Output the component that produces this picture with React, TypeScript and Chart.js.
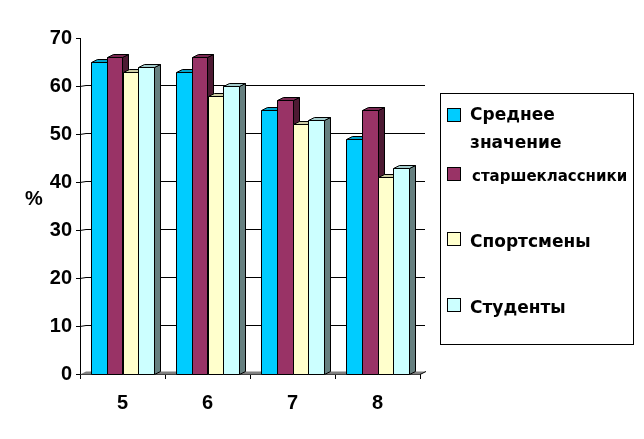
import React, { useEffect, useRef } from 'react';
import { Chart, registerables } from 'chart.js';

Chart.register(...registerables);

// data
const categories = ['5', '6', '7', '8'];
const averageValues = [65, 63, 55, 49];
const seniorValues = [66, 66, 57, 55];
const athleteValues = [63, 58, 52, 41];
const studentValues = [64, 60, 53, 43];
const seriesNames = ['Среднее значение', 'старшеклассники', 'Спортсмены', 'Студенты'];
const legendLines = [['Среднее', 'значение'], ['старшеклассники'], ['Спортсмены'], ['Студенты']];
const seriesColors = ['#00CCFF', '#993366', '#FFFFCC', '#CCFFFF'];

const DX = 6;
const DY = 3;

function shade(hex: string, f: number) {
    const n = parseInt(hex.slice(1), 16);
    const r = Math.round(((n >> 16) & 255) * f);
    const g = Math.round(((n >> 8) & 255) * f);
    const b = Math.round((n & 255) * f);
    return `rgb(${r},${g},${b})`;
}

function poly(ctx: CanvasRenderingContext2D, pts: number[][], fill: string) {
    ctx.beginPath();
    ctx.moveTo(pts[0][0], pts[0][1]);
    for (let i = 1; i < pts.length; i++) ctx.lineTo(pts[i][0], pts[i][1]);
    ctx.closePath();
    ctx.fillStyle = fill;
    ctx.fill();
    ctx.stroke();
}

const bar3d = {
    id: 'bar3d',
    beforeDatasetsDraw(chart: any) {
        const { ctx, chartArea: a, scales } = chart;
        const y = scales.y;
        ctx.save();
        ctx.strokeStyle = '#000';
        ctx.lineWidth = 1;
        // back wall grid lines
        y.ticks.forEach((t: any) => {
            if (t.value <= 0 || t.value >= 70) return;
            const py = Math.round(y.getPixelForValue(t.value)) + 0.5;
            ctx.beginPath();
            ctx.moveTo(a.left, py);
            ctx.lineTo(a.left + DX, py - 1);
            ctx.lineTo(a.right + DX - 1, py - 1);
            ctx.stroke();
        });
        // floor
        const base = Math.round(y.getPixelForValue(0)) + 0.5;
        ctx.beginPath();
        ctx.moveTo(a.left, base);
        ctx.lineTo(a.left + DX, base - DY);
        ctx.lineTo(a.right + DX, base - DY);
        ctx.lineTo(a.right, base);
        ctx.closePath();
        ctx.fillStyle = '#808080';
        ctx.fill();
        ctx.beginPath();
        ctx.moveTo(a.right, base);
        ctx.lineTo(a.right + DX, base - DY);
        ctx.stroke();
        ctx.restore();
    },
    afterDatasetsDraw(chart: any) {
        const { ctx } = chart;
        ctx.save();
        ctx.strokeStyle = '#000';
        ctx.lineWidth = 1;
        // dataset order, so each bar hides the side of the one before it
        chart.data.datasets.forEach((_: any, i: number) => {
            const color = seriesColors[i];
            chart.getDatasetMeta(i).data.forEach((el: any) => {
                const { x, y, base, width } = el.getProps(['x', 'y', 'base', 'width'], true);
                const l = Math.round(x - width / 2) + 0.5;
                const r = Math.round(x + width / 2) + 0.5;
                const t = Math.round(y) + 0.5;
                const b = Math.round(base) + 0.5;
                poly(ctx, [[r, t], [r + DX, t - DY], [r + DX, b - DY], [r, b]], shade(color, 0.5));
                poly(ctx, [[l, t], [l + DX, t - DY], [r + DX, t - DY], [r, t]], shade(color, 0.8));
                poly(ctx, [[l, t], [r, t], [r, b], [l, b]], color);
            });
        });
        ctx.restore();
    },
    afterDraw(chart: any) {
        const { ctx } = chart;
        ctx.save();
        ctx.fillStyle = '#000';
        ctx.font = 'bold 20px "Liberation Sans"';
        ctx.textAlign = 'center';
        ctx.textBaseline = 'middle';
        ctx.fillText('%', 34, 199);

        // legend
        ctx.strokeStyle = '#000';
        ctx.lineWidth = 1;
        ctx.strokeRect(440.5, 93.5, 193, 251);
        const markerTops = [108, 167, 232, 298];
        const baselines = [[120, 148], [181], [247], [313]];
        const sizes = [17, 15, 17, 17];
        ctx.textAlign = 'left';
        ctx.textBaseline = 'alphabetic';
        legendLines.forEach((lines, i) => {
            ctx.fillStyle = seriesColors[i];
            ctx.fillRect(447, markerTops[i], 14, 14);
            ctx.strokeRect(447.5, markerTops[i] + 0.5, 13, 13);
            ctx.fillStyle = '#000';
            ctx.font = `bold ${sizes[i]}px "DejaVu Sans"`;
            lines.forEach((line, j) => ctx.fillText(line, i === 1 ? 472 : 470, baselines[i][j]));
        });
        ctx.restore();
    },
};

const App: React.FC = () => {
    const chartRef = useRef<HTMLCanvasElement>(null);

    useEffect(() => {
        if (!chartRef.current) return;
        const tickFont = { family: 'Liberation Sans', weight: 'bold' as const, size: 20 };
        const values = [averageValues, seniorValues, athleteValues, studentValues];

        const chart = new Chart(chartRef.current, {
            type: 'bar',
            data: {
                labels: categories,
                datasets: values.map((data, i) => ({
                    label: seriesNames[i],
                    data,
                    // faces are painted by the bar3d plugin
                    backgroundColor: 'rgba(0,0,0,0)',
                    borderWidth: 0,
                    categoryPercentage: 0.73,
                    barPercentage: 1,
                })),
            },
            options: {
                responsive: false,
                animation: false,
                layout: { padding: { left: 0, right: 224, top: 38, bottom: 0 } },
                plugins: {
                    legend: { display: false },
                    tooltip: { enabled: false },
                },
                scales: {
                    x: {
                        grid: { display: true, drawOnChartArea: false, drawTicks: true, tickLength: 5, color: '#000', offset: true },
                        border: { display: true, color: '#000' },
                        ticks: { color: '#000', font: tickFont, padding: 12 },
                        afterFit: (scale: any) => { scale.height = 65; },
                    },
                    y: {
                        min: 0,
                        max: 70,
                        ticks: { stepSize: 10, color: '#000', font: tickFont, padding: 4 },
                        grid: { display: true, drawOnChartArea: false, drawTicks: true, tickLength: 4, color: '#000' },
                        border: { display: true, color: '#000' },
                        afterFit: (scale: any) => { scale.width = 80; },
                    },
                },
            },
            plugins: [bar3d],
        });

        return () => chart.destroy();
    }, []);

    return (
        <div style={{ position: 'absolute', left: 0, top: 0, width: 644, height: 439, background: '#fff' }}>
            <canvas ref={chartRef} width={644} height={439} style={{ display: 'block' }} />
        </div>
    );
};

export default App;
